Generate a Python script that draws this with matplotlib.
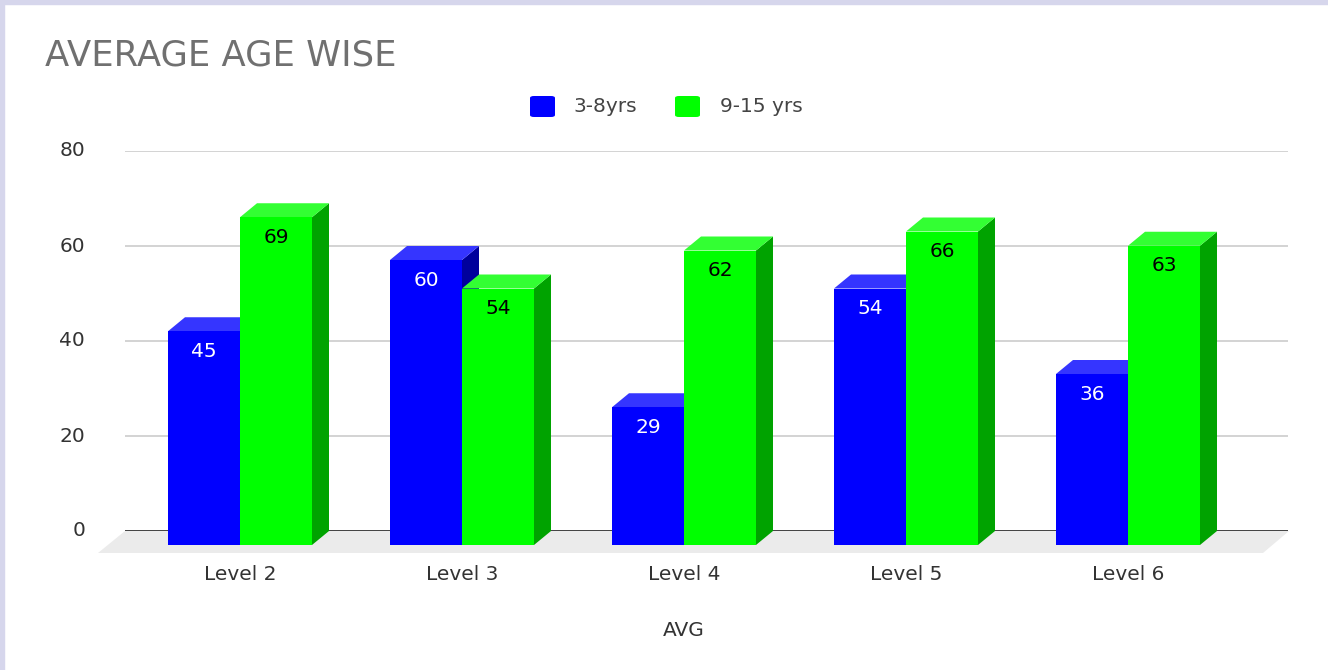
import matplotlib.pyplot as plt
from matplotlib.patches import Polygon, Rectangle, FancyBboxPatch

plt.rcParams['font.family'] = ['DejaVu Sans']

categories = ["Level 2", "Level 3", "Level 4", "Level 5", "Level 6"]
series_names = ["3-8yrs", "9-15 yrs"]
young = [45, 60, 29, 54, 36]
older = [69, 54, 62, 66, 63]
yticks = [0, 20, 40, 60, 80]

face = {"3-8yrs": ("#0000ff", "#3535ff", "#00009c", "white"),
        "9-15 yrs": ("#00ff00", "#33ff33", "#00a300", "black")}

W, H = 1328, 670
fig = plt.figure(figsize=(W / 100, H / 100), dpi=100)
fig.patches.append(Rectangle((0, 1 - 4 / H), 1, 4 / H, transform=fig.transFigure, color="#d6d6ec", zorder=0))
fig.patches.append(Rectangle((0, 0), 4 / W, 1, transform=fig.transFigure, color="#d6d6ec", zorder=0))

# axes: back plane gridlines span x 125..1288 px, y 0 at 531 px, 80 at 151 px
ax = fig.add_axes([125 / W, (H - 531) / H, 1163 / W, 380 / H])
px_per_x = 222.0
x0 = -(240 - 125) / px_per_x
ax.set_xlim(x0, x0 + 1163 / px_per_x)
ax.set_ylim(0, 80)
for s in ax.spines.values():
    s.set_visible(False)
ax.set_xticks([])
ax.set_yticks([])

dx = 17 / px_per_x
dy = 14 / 4.75
bw = 72 / px_per_x
fs = 14.5

for v in yticks:
    ax.axhline(v, color="#333333" if v == 0 else "#cccccc", lw=1.3 if v == 0 else 1.2, zorder=1)
    ax.text(x0 - 40 / px_per_x, v, str(v), ha="right", va="center", fontsize=fs, color="#333333")

# floor
fl = x0 - 27 / px_per_x
fr = x0 + 1164 / px_per_x
ax.add_patch(Polygon([(x0, 0), (fr, 0), (fr - 26 / px_per_x, -22 / 4.75), (fl, -22 / 4.75)],
                     closed=True, color="#ebebeb", lw=0, zorder=0.5, clip_on=False))


def bar3d(left, val, name):
    front, top, side, tc = face[name]
    b, t = -dy, val - dy
    r = left + bw
    ax.add_patch(Polygon([(r, b), (r + dx, 0), (r + dx, val), (r, t)], closed=True,
                         color=side, lw=0, zorder=3, clip_on=False))
    ax.add_patch(Polygon([(left, t), (left + dx, val), (r + dx, val), (r, t)], closed=True,
                         color=top, lw=0, zorder=3, clip_on=False))
    ax.add_patch(Rectangle((left, b), bw, val, color=front, lw=0, zorder=3, clip_on=False))
    ax.text(left + bw / 2, t - 20 / 4.75, str(val), ha="center", va="center",
            fontsize=fs, color=tc, zorder=4)


for i, cat in enumerate(categories):
    bar3d(i - bw, young[i], series_names[0])
    bar3d(i, older[i], series_names[1])
    ax.text(i, -dy - 30 / 4.75, cat, ha="center", va="center", fontsize=fs, color="#333333")

fig.text(684 / W, 1 - 630 / H, "AVG", ha="center", va="center", fontsize=fs, color="#333333")
fig.text(45 / W, 1 - 55 / H, "AVERAGE AGE WISE", ha="left", va="center", fontsize=25.5, color="#707070")

# legend
for x_sq, x_txt, name in [(530, 573, series_names[0]), (675, 720, series_names[1])]:
    fig.patches.append(FancyBboxPatch((x_sq / W, 1 - 117 / H), 25 / W, 21 / H,
                                      boxstyle="round,pad=0,rounding_size=0.003",
                                      transform=fig.transFigure, color=face[name][0], lw=0))
    fig.text(x_txt / W, 1 - 106 / H, name, ha="left", va="center", fontsize=fs, color="#444444")

fig.savefig("out.png", dpi=100, facecolor="white")
